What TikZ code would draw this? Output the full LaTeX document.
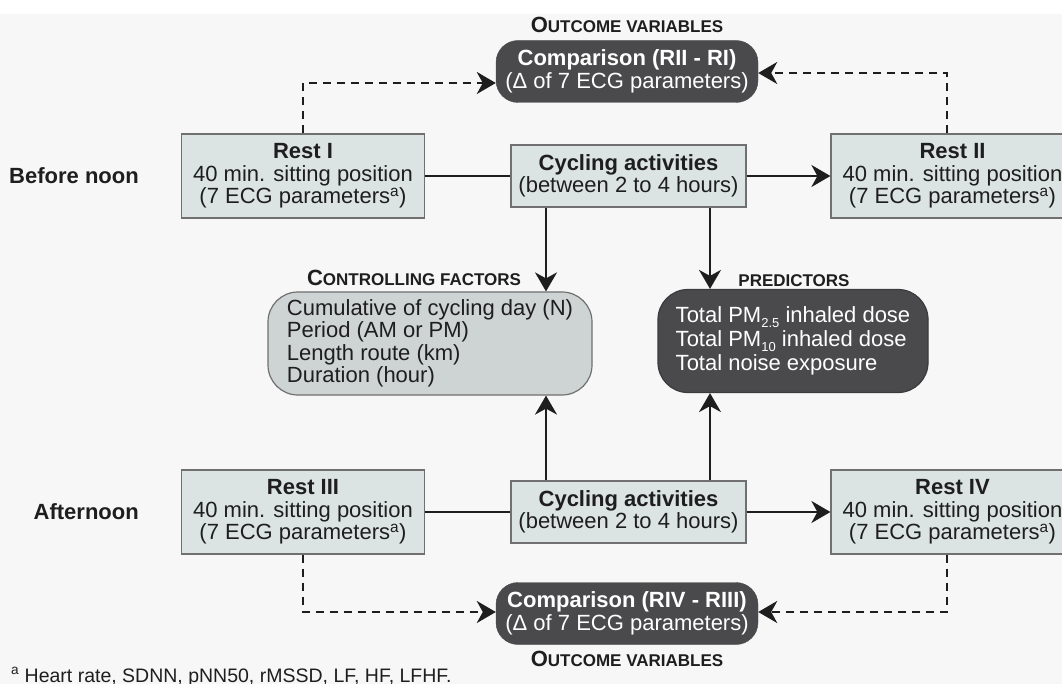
\documentclass[tikz,border=0pt]{standalone}
\usepackage{fontspec}
\setmainfont{Liberation Sans}
\usetikzlibrary{arrows.meta,calc}
\definecolor{bgc}{HTML}{F7F7F7}
\definecolor{boxfill}{HTML}{DCE3E3}
\definecolor{ctrlfill}{HTML}{CED4D4}
\definecolor{darkfill}{HTML}{4A4A4C}
\definecolor{boxborder}{HTML}{707070}
\definecolor{txt}{HTML}{1E1E1E}
\newcommand{\fsmain}{\fontsize{22}{22.5}\selectfont}
\newcommand{\fssc}{\fontsize{17}{18}\selectfont}
\newcommand{\bigsc}[2]{{\fontsize{22}{22}\selectfont #1}{\fssc #2}}
\newcommand{\lowsub}[1]{\raisebox{-4.5pt}{\fontsize{13}{13}\selectfont #1}}
\tikzset{
  restbox/.style={draw=boxborder, fill=boxfill, line width=1.2pt, minimum width=243pt,
    minimum height=84pt, inner sep=0pt, align=center, text=txt, font=\fsmain},
  cycbox/.style={draw=boxborder, fill=boxfill, line width=1.2pt, minimum width=235pt,
    minimum height=62pt, inner sep=0pt, align=center, text=txt, font=\fsmain},
  compbox/.style={draw=darkfill, fill=darkfill, rounded corners=22pt, minimum width=262pt,
    minimum height=62pt, inner sep=0pt, align=center, text=white, font=\fsmain},
  ctrlbox/.style={draw=boxborder, fill=ctrlfill, line width=1.2pt, rounded corners=30pt,
    minimum width=324pt, minimum height=103pt, inner sep=0pt,
    align=left, text=txt, font=\fsmain},
  predbox/.style={draw=darkfill!80!black, fill=darkfill, line width=1.2pt, rounded corners=30pt,
    minimum width=270pt, minimum height=103pt, inner sep=0pt,
    align=left, text=white, font=\fontsize{22}{24}\selectfont},
  lbl/.style={inner sep=0pt, text=txt, font=\fsmain},
  conn/.style={line width=2pt, draw=txt},
  arr/.style={conn, -{Stealth[length=19pt, width=22pt, inset=6pt]}},
  dsh/.style={line width=2.6pt, draw=txt, dash pattern=on 8pt off 6pt,
    -{Stealth[length=19pt, width=22pt, inset=6pt]}},
}
\begin{document}
\begin{tikzpicture}[x=1pt,y=-1pt]
\useasboundingbox (0,0) rectangle (1062,684);
\clip (0,0) rectangle (1062,684);
\fill[white] (0,0) rectangle (1062,14);
\fill[bgc] (0,14) rectangle (1062,684);

% helper coordinates
\coordinate (xa) at (546,0);
\coordinate (xb) at (710,0);
\coordinate (xr) at (947,0);
\coordinate (yl) at (0,83);
\coordinate (yr) at (0,73);
\coordinate (yb) at (0,612);

% top row
\node[restbox] (restI) at (303,176) {\textbf{Rest I}\\40 min. sitting position\\(7 ECG parameters\textsuperscript{a})};
\node[cycbox] (cyc1) at (628.5,176) {\textbf{Cycling activities}\\(between 2 to 4 hours)};
\node[restbox] (restII) at (952.5,176) {\textbf{Rest II}\\40 min. sitting position\\(7 ECG parameters\textsuperscript{a})};

% bottom row
\node[restbox] (restIII) at (303,512) {\textbf{Rest III}\\40 min. sitting position\\(7 ECG parameters\textsuperscript{a})};
\node[cycbox] (cyc2) at (628.5,512) {\textbf{Cycling activities}\\(between 2 to 4 hours)};
\node[restbox] (restIV) at (952.5,512) {\textbf{Rest IV}\\40 min. sitting position\\(7 ECG parameters\textsuperscript{a})};

% comparison boxes
\node[compbox] (compTop) at (627,71.5) {\textbf{Comparison (RII - RI)}\\(Δ of 7 ECG parameters)};
\node[compbox] (compBot) at (627,613.5) {\textbf{Comparison (RIV - RIII)}\\(Δ of 7 ECG parameters)};

% middle boxes
\node[ctrlbox] (ctrl) at (430,343.5) {Cumulative of cycling day (N)\\Period (AM or PM)\\Length route (km)\\Duration (hour)};
\node[predbox] (pred) at (793,341) {Total PM\lowsub{2.5} inhaled dose\\Total PM\lowsub{10} inhaled dose\\Total noise exposure};

% labels
\node[lbl] (outTop) at (627,25) {\textbf{\bigsc{O}{UTCOME VARIABLES}}};
\node[lbl] (outBot) at (627,659) {\textbf{\bigsc{O}{UTCOME VARIABLES}}};
\node[lbl] (ctrlLbl) at (414,278) {\textbf{\bigsc{C}{ONTROLLING FACTORS}}};
\node[lbl] (predLbl) at (794,281) {\fssc\textbf{PREDICTORS}};
\node[lbl, anchor=east] (before) at (139,176) {\textbf{Before noon}};
\node[lbl, anchor=east] (after) at (139,512) {\textbf{Afternoon}};
\node[inner sep=0pt, text=txt, anchor=base west, font=\fontsize{19.5}{20}\selectfont] (foot) at (11,682)
  {\textsuperscript{a} Heart rate, SDNN, pNN50, rMSSD, LF, HF, LFHF.};

% solid connectors
\draw[conn] (restI.east) -- (cyc1.west);
\draw[arr] (cyc1.east) -- (restII.west);
\draw[conn] (restIII.east) -- (cyc2.west);
\draw[arr] (cyc2.east) -- (restIV.west);
\draw[arr] (cyc1.south -| xa) -- (ctrl.north -| xa);
\draw[arr] (cyc1.south -| xb) -- (pred.north -| xb);
\draw[arr] (cyc2.north -| xa) -- (ctrl.south -| xa);
\draw[arr] (cyc2.north -| xb) -- (pred.south -| xb);

% dashed connectors
\draw[dsh] (restI.north) |- (compTop.west |- yl);
\draw[dsh] (restII.north -| xr) |- (compTop.east |- yr);
\draw[dsh] (restIII.south) |- (compBot.west |- yb);
\draw[dsh] (restIV.south -| xr) |- (compBot.east |- yb);
\end{tikzpicture}
\end{document}
